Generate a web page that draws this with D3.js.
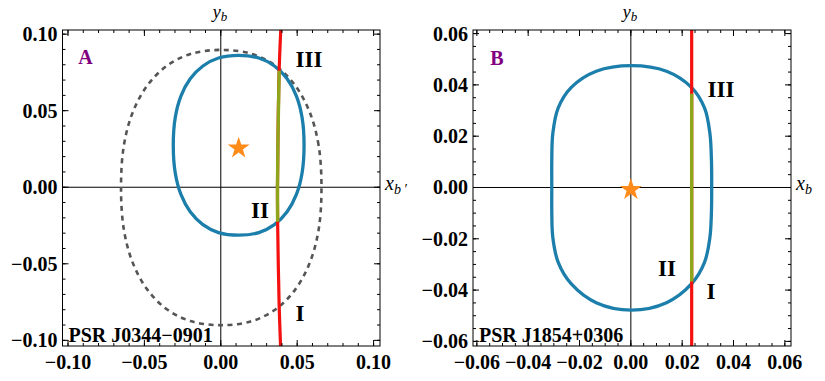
<!DOCTYPE html>
<html>
<head>
<meta charset="utf-8">
<script src="https://cdn.jsdelivr.net/npm/d3@7/dist/d3.min.js"></script>
<style>
body { margin: 0; background: #fff; }
text { font-family: "Liberation Serif", "Times New Roman", serif; }
</style>
</head>
<body>
<div id="graphic"></div>
<script>
// Panel A (PSR J0344-0901) - curves
var aBlue = [[0.0545,0.0274],[0.0532,0.0455],[0.0495,0.0595],[0.0434,0.0708],[0.0351,0.0792],[0.0249,0.0844],
    [0.0117,0.0861],[-0.0015,0.0844],[-0.0117,0.0792],[-0.0200,0.0708],[-0.0261,0.0595],[-0.0298,0.0455],
    [-0.0311,0.0274],[-0.0298,0.0093],[-0.0261,-0.0047],[-0.0200,-0.0160],[-0.0117,-0.0244],[-0.0015,-0.0296],
    [0.0117,-0.0313],[0.0249,-0.0296],[0.0351,-0.0244],[0.0434,-0.0160],[0.0495,-0.0047],[0.0532,0.0093]];
var aDashed = [[0.0659,-0.0002],[0.0640,0.0275],[0.0582,0.0490],[0.0488,0.0663],[0.0362,0.0791],[0.0205,0.0870],
    [0.0003,0.0897],[-0.0199,0.0870],[-0.0356,0.0791],[-0.0482,0.0663],[-0.0576,0.0490],[-0.0634,0.0275],
    [-0.0653,-0.0002],[-0.0634,-0.0279],[-0.0576,-0.0494],[-0.0482,-0.0667],[-0.0356,-0.0795],[-0.0199,-0.0874],
    [0.0003,-0.0901],[0.0205,-0.0874],[0.0362,-0.0795],[0.0488,-0.0667],[0.0582,-0.0494],[0.0640,-0.0279]];
var aRed = [[0.0394,0.106],[0.0382,0.0761],[0.0374,0.030],[0.0371,0.000],[0.0372,-0.0225],[0.0382,-0.077],[0.0392,-0.106]];
var aGreen = [[0.0382,0.0761],[0.0374,0.030],[0.0371,0.000],[0.0372,-0.0225]];
var aStar = [0.0117, 0.0255];
var aMajor = [-0.10, -0.05, 0, 0.05, 0.10];

// Panel B (PSR J1854+0306)
var bBlue = [[0.0002,0.0475],[0.0139,0.0453],[0.0236,0.0390],[0.0287,0.0310],[0.0308,0.0211],[0.0314,0.0107],
    [0.0315,0.0000],[0.0314,-0.0095],[0.0308,-0.0195],[0.0287,-0.0292],[0.0236,-0.0376],[0.0139,-0.0449],
    [0.0002,-0.0478],[-0.0135,-0.0449],[-0.0232,-0.0376],[-0.0283,-0.0292],[-0.0304,-0.0195],[-0.0308,-0.0095],
    [-0.0308,0.0000],[-0.0308,0.0107],[-0.0304,0.0211],[-0.0283,0.0310],[-0.0232,0.0390],[-0.0135,0.0453]];
var bRed = [[0.0237,0.065],[0.0237,0.0365],[0.0237,-0.0367],[0.0237,-0.065]];
var bGreen = [[0.0237,0.0365],[0.0237,-0.0367]];
var bStar = [0.0, -0.0008];
var bMajor = [-0.06, -0.04, -0.02, 0, 0.02, 0.04, 0.06];

var colors = {
    blue: '#1b7eab', red: '#f51010', green: '#8fa51c', dash: '#555555',
    star: '#ff8c1a', purple: '#800080'
};

var svg = d3.select('#graphic').append('svg')
    .attr('width', 825)
    .attr('height', 381);

var fmt = function(d) { return d3.format('.2f')(d).replace('-', '\u2212'); };

var drawPanel = function(config) {
    var x = d3.scaleLinear().domain(config.xDomain).range([config.left, config.right]);
    var y = d3.scaleLinear().domain(config.yDomain).range([config.bottom, config.top]);
    var g = svg.append('g');

    var clipId = 'clip-' + config.id;
    g.append('clipPath').attr('id', clipId).append('rect')
        .attr('x', config.left).attr('y', config.top)
        .attr('width', config.right - config.left)
        .attr('height', config.bottom - config.top);

    // axes through origin
    g.append('line')
        .attr('x1', config.left).attr('x2', config.right)
        .attr('y1', y(0)).attr('y2', y(0))
        .attr('stroke', '#000').attr('stroke-width', 1);
    g.append('line')
        .attr('x1', x(0)).attr('x2', x(0))
        .attr('y1', config.top).attr('y2', config.bottom)
        .attr('stroke', '#000').attr('stroke-width', 1);

    var closed = d3.line().x(function(d) { return x(d[0]); }).y(function(d) { return y(d[1]); })
        .curve(d3.curveCatmullRomClosed.alpha(0.5));
    var open = d3.line().x(function(d) { return x(d[0]); }).y(function(d) { return y(d[1]); })
        .curve(d3.curveCatmullRom.alpha(0.5));

    var plot = g.append('g').attr('clip-path', 'url(#' + clipId + ')');

    if (config.dashed) {
        plot.append('path').attr('d', closed(config.dashed))
            .attr('fill', 'none').attr('stroke', colors.dash)
            .attr('stroke-width', 2.6).attr('stroke-dasharray', '5,4.5');
    }
    plot.append('path').attr('d', closed(config.blue))
        .attr('fill', 'none').attr('stroke', colors.blue).attr('stroke-width', 3.3);
    plot.append('path').attr('d', open(config.red))
        .attr('fill', 'none').attr('stroke', colors.red).attr('stroke-width', 3.2);
    plot.append('path').attr('d', open(config.green))
        .attr('fill', 'none').attr('stroke', colors.green).attr('stroke-width', 3.4);

    plot.append('path')
        .attr('d', d3.symbol().type(d3.symbolStar).size(150)())
        .attr('transform', 'translate(' + x(config.star[0]) + ',' + y(config.star[1]) + ')')
        .attr('fill', colors.star);

    // frame
    g.append('rect')
        .attr('x', config.left).attr('y', config.top)
        .attr('width', config.right - config.left)
        .attr('height', config.bottom - config.top)
        .attr('fill', 'none').attr('stroke', '#000').attr('stroke-width', 1);

    // frame ticks on all four sides
    var ticks = config.minor.map(function(v) { return { v: v, len: 3 }; })
        .concat(config.major.map(function(v) { return { v: v, len: 6 }; }));
    ticks.forEach(function(t) {
        var px = x(t.v), py = y(t.v);
        if (px > config.left + 0.5 && px < config.right - 0.5) {
            g.append('line').attr('x1', px).attr('x2', px).attr('y1', config.bottom).attr('y2', config.bottom - t.len).attr('stroke', '#000');
            g.append('line').attr('x1', px).attr('x2', px).attr('y1', config.top).attr('y2', config.top + t.len).attr('stroke', '#000');
        }
        if (py > config.top + 0.5 && py < config.bottom - 0.5) {
            g.append('line').attr('y1', py).attr('y2', py).attr('x1', config.left).attr('x2', config.left + t.len).attr('stroke', '#000');
            g.append('line').attr('y1', py).attr('y2', py).attr('x1', config.right).attr('x2', config.right - t.len).attr('stroke', '#000');
        }
    });

    // tick labels
    g.selectAll('.ylab').data(config.major).enter().append('text')
        .attr('x', config.left - 5).attr('y', function(d) { return y(d); })
        .attr('dy', '0.35em').attr('text-anchor', 'end')
        .attr('font-size', 20).attr('font-weight', 'bold')
        .text(fmt);
    g.selectAll('.xlab').data(config.major).enter().append('text')
        .attr('x', function(d) { return x(d); }).attr('y', 368.5)
        .attr('text-anchor', 'middle')
        .attr('font-size', 20).attr('font-weight', 'bold')
        .text(fmt);

    // axis labels
    var yl = g.append('text').attr('x', x(0) - 8).attr('y', 17.5).attr('font-size', 18).attr('font-style', 'italic');
    yl.append('tspan').text('y');
    yl.append('tspan').attr('font-size', 13).attr('dy', 3.5).text('b');
    var xl = g.append('text').attr('x', config.right + 5).attr('y', 189.5).attr('font-size', 20).attr('font-style', 'italic');
    xl.append('tspan').text('x');
    xl.append('tspan').attr('font-size', 14).attr('dy', 4).text(config.xSub);

    // panel letter, region numerals, pulsar name
    g.append('text').attr('x', config.letterPos[0]).attr('y', config.letterPos[1])
        .attr('text-anchor', 'middle').attr('font-size', 20).attr('font-weight', 'bold')
        .attr('fill', colors.purple).text(config.letter);
    config.regions.forEach(function(r) {
        g.append('text').attr('x', r[1]).attr('y', r[2])
            .attr('text-anchor', 'middle').attr('font-size', 23).attr('font-weight', 'bold')
            .text(r[0]);
    });
    g.append('text').attr('x', config.left + 6).attr('y', 341.5)
        .attr('font-size', 20).attr('font-weight', 'bold').text(config.name);
};

drawPanel({
    id: 'a', left: 62.5, right: 380, top: 30, bottom: 346,
    xDomain: [-0.1036, 0.1042], yDomain: [-0.1037, 0.1027],
    major: aMajor, minor: d3.range(-10, 11).map(function(i) { return i / 100; }),
    dashed: aDashed, blue: aBlue, red: aRed, green: aGreen, star: aStar,
    letter: 'A', letterPos: [85.5, 64],
    regions: [['III', 309, 66.5], ['II', 260, 217.5], ['I', 300, 320.5]],
    name: 'PSR J0344\u22120901', xSub: 'b\u2009\u2032'
});

drawPanel({
    id: 'b', left: 473, right: 791, top: 30, bottom: 346,
    xDomain: [-0.0615, 0.0624], yDomain: [-0.0618, 0.0614],
    major: bMajor, minor: d3.range(-12, 13).map(function(i) { return i * 0.005; }),
    blue: bBlue, red: bRed, green: bGreen, star: bStar,
    letter: 'B', letterPos: [497, 65],
    regions: [['III', 721, 96.5], ['II', 667, 276], ['I', 711, 299]],
    name: 'PSR J1854+0306', xSub: 'b'
});
</script>
</body>
</html>
